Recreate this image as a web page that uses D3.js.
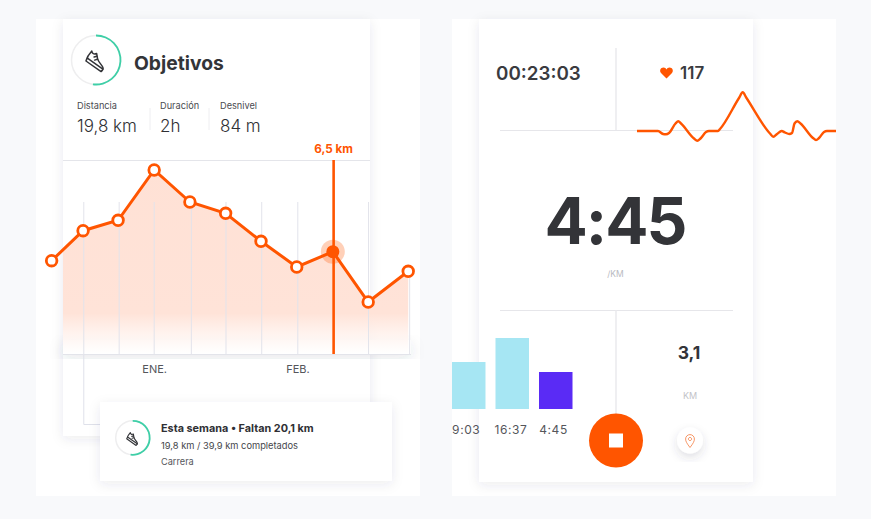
<!DOCTYPE html>
<html><head><meta charset="utf-8">
<script src="https://cdn.jsdelivr.net/npm/d3@7/dist/d3.min.js"></script>
<style>html,body{margin:0;padding:0;background:#f8f9fb}svg{display:block}text{font-family:Inter,"Noto Sans",sans-serif}</style>
</head><body><div id="c"></div>
<script>
// ---- data ----
const kmPositions = [0.11,0.99,1.97,2.98,3.98,4.98,5.97,6.97,7.98,8.97,10.09];
const kmValues = [93.3,123.3,133.7,184,152,140.7,112.7,87,102.3,52,82.7];
const selectedIndex = 8;
const selectedLabel = "6,5 km";
const gridPositions = [1.01,2,2.98,4.02,4.99,5.99,7,8.98,10.13];
const gridTops = [152,152,152,152,152,152,152,152,80];
const monthTicks = [2.98,6.99];
const monthLabels = ["ENE.","FEB."];
const statLabels = ["Distancia","Duración","Desnivel"];
const statValues = ["19,8 km","2h","84 m"];
const hrOffsets = [0,21,26,29,32,38.5,41.3,44,57,60.3,63.5,69,72,81,83,102,105.7,109.5,133,136.3,140,144.7,148,152.3,155,157.5,160.3,163.5,176,179,182,187,190,199];
const hrValues = [0,0,-3,-3.3,-2,7.5,9.7,7.5,-7.5,-9.7,-7.5,-1,0,0,2,33,38.7,33,-2.5,-5.7,-3,0,-1.5,-3,-2,7.5,9.7,7.5,-7,-9,-7,-1,0,0];
const lapLabels = ["19:03","16:37","4:45"];
const lapValues = [47,71,37];
const lapColors = ["#a6e6f3","#a6e6f3","#5a2bf5"];

const W=871,H=519, ORANGE="#ff5500", TEAL="#3ecfa7", INK="#333438", GREY="#e4e5ea";
const svg=d3.select("#c").append("svg").attr("width",W).attr("height",H);
const defs=svg.append("defs");
function shadow(id,dy,blur,op){const f=defs.append("filter").attr("id",id).attr("x","-30%").attr("y","-30%").attr("width","160%").attr("height","160%");
  f.append("feDropShadow").attr("dx",0).attr("dy",dy).attr("stdDeviation",blur).attr("flood-color","#3a3f55").attr("flood-opacity",op);}
shadow("s1",3,6,0.09); shadow("s2",4,7,0.13); shadow("s3",4,5,0.16);
const g=defs.append("linearGradient").attr("id","area").attr("gradientUnits","userSpaceOnUse").attr("x1",0).attr("x2",0).attr("y1",160).attr("y2",354);
[[0,"#ffe1d5",1],[0.79,"#ffe3d8",1],[1,"#ffffff",0.7]].forEach(d=>g.append("stop").attr("offset",d[0]).attr("stop-color",d[1]).attr("stop-opacity",d[2]));
defs.append("clipPath").attr("id","rightPanel").append("rect").attr("x",452).attr("y",19).attr("width",384).attr("height",477);
defs.append("clipPath").attr("id","areaClip").append("rect").attr("x",63).attr("y",150).attr("width",348).attr("height",204);

function rect(p,x,y,w,h,fill,f){const r=p.append("rect").attr("x",x).attr("y",y).attr("width",w).attr("height",h).attr("fill",fill);if(f)r.attr("filter",`url(#${f})`);return r;}
function line(p,x1,y1,x2,y2,c,w){return p.append("line").attr("x1",x1).attr("y1",y1).attr("x2",x2).attr("y2",y2).attr("stroke",c).attr("stroke-width",w||1);}
function text(p,s,x,y,size,weight,fill,anchor){return p.append("text").text(s).attr("x",x).attr("y",y).attr("font-size",size).attr("font-weight",weight||400).attr("fill",fill||INK).attr("text-anchor",anchor||"start");}
function ring(p,cx,cy,r,frac,iconScale,sw){
  const n=p.append("g").attr("transform",`translate(${cx},${cy})`);
  n.append("circle").attr("r",r).attr("fill","#fff").attr("stroke","#eeeeef").attr("stroke-width",1.5);
  n.append("path").attr("d",d3.arc()({innerRadius:r-0.9,outerRadius:r+0.9,startAngle:0,endAngle:frac*2*Math.PI})).attr("fill",TEAL);
  const ic=n.append("g").attr("transform",`translate(0.7,1) scale(${iconScale}) rotate(35) translate(-12,-9)`).attr("fill","none").attr("stroke",INK).attr("stroke-width",sw).attr("stroke-linejoin","round").attr("stroke-linecap","round");
  ic.append("path").attr("d","M1 3 C3 5 5 5 7 2 L11 6 C14 9 19 9 22 11 C23.5 12 23.5 14 23 16 L2 16 C0.5 12 0.5 7 1 3 Z").attr("fill","#fff");
  ic.append("path").attr("d","M1.5 12.5 L23 12.5 M9 4.5 L7 7 M11.5 7 L9.5 9.5");
}

// panels
rect(svg,36,19,384,477,"#fff");
rect(svg,452,19,384,477,"#fff");

// left card
rect(svg,63,19,307,417,"#fff","s1");
line(svg,63,160.5,370,160.5,GREY,1);
ring(svg,96,60,24.5,0.52,0.88,1.7);
text(svg,"Objetivos",134,70,19.3,700);
const statX=[77,160,220], statLineX=[150,209];
statLabels.forEach((d,i)=>text(svg,d,statX[i],109,9.2,400,"#4a4b50"));
statValues.forEach((d,i)=>text(svg,d,statX[i],132,17,300,"#2f3034"));
statLineX.forEach(x=>line(svg,x,108,x,130,"#eeeef1",1));

// main chart
const x=d3.scaleLinear().domain([0,10]).range([47.7,405]);
const y=d3.scaleLinear().domain([0,200]).range([354,154]);
const pts=kmPositions.map((k,i)=>({k,v:kmValues[i],i}));
const chart=svg.append("g");
chart.append("rect").attr("x",63).attr("y",340).attr("width",348).attr("height",14).attr("fill","#fff").attr("filter","url(#s2)");
chart.append("path").datum(pts).attr("clip-path","url(#areaClip)")
  .attr("d",d3.area().x(d=>x(d.k)).y0(y(0)).y1(d=>y(d.v))).attr("fill","url(#area)");
chart.selectAll("line.grid").data(gridPositions).join("line").attr("class","grid")
  .attr("x1",d=>x(d)).attr("x2",d=>x(d)).attr("y1",(d,i)=>y(gridTops[i])).attr("y2",y(0)).attr("stroke","#e2e3eb").attr("stroke-width",1);
const bx=x(gridPositions[0]);
chart.append("path").attr("d",`M${bx},354V424.5H100`).attr("fill","none").attr("stroke","#dfe1ea");
line(chart,63,354.5,411,354.5,"#e3e4ea",1);
const ax=d3.axisBottom(x).tickValues(monthTicks).tickSize(0).tickFormat((d,i)=>monthLabels[i]);
const axG=chart.append("g").attr("transform","translate(0,354)").call(ax);
axG.select(".domain").remove();
axG.selectAll("text").attr("dy",0).attr("y",19).attr("font-size",11).attr("fill","#55565b").style("font-family","Inter");
const sel=pts[selectedIndex];
chart.append("line").attr("x1",x(sel.k)+0.8).attr("x2",x(sel.k)+0.8).attr("y1",160).attr("y2",354).attr("stroke",ORANGE).attr("stroke-width",2.6);
text(chart,selectedLabel,x(sel.k)+0.8,152.5,11.7,700,ORANGE,"middle");
chart.append("path").datum(pts).attr("d",d3.line().x(d=>x(d.k)).y(d=>y(d.v))).attr("fill","none").attr("stroke",ORANGE).attr("stroke-width",3);
chart.selectAll("circle.pt").data(pts.filter(d=>d.i!==selectedIndex)).join("circle").attr("class","pt")
  .attr("cx",d=>x(d.k)).attr("cy",d=>y(d.v)).attr("r",5.3).attr("fill","#fff").attr("stroke",ORANGE).attr("stroke-width",2.8);
chart.append("circle").attr("cx",x(sel.k)).attr("cy",y(sel.v)).attr("r",12).attr("fill",ORANGE).attr("opacity",0.28);
chart.append("circle").attr("cx",x(sel.k)).attr("cy",y(sel.v)).attr("r",6.5).attr("fill",ORANGE);

// bottom card
rect(svg,100,402,292,79,"#fff","s1");
ring(svg,132.7,437.8,17,0.52,0.55,2.1);
text(svg,"Esta semana • Faltan 20,1 km",161,432,10.85,700,"#2f3034");
text(svg,"19,8 km / 39,9 km completados",161,448.5,9.3,400,"#45464b");
text(svg,"Carrera",161,465,9.2,400,"#55565b");

// right card
rect(svg,479,19,274,463,"#fff","s1");
line(svg,616,48,616,130,"#e9e9ec",1.4);
line(svg,500,130.5,733,130.5,"#e6e6ea",1);
line(svg,500,310.5,733,310.5,"#e6e6ea",1);
line(svg,616,310,616,420,"#e9e9ec",1.4);
text(svg,"00:23:03",496,80,18.8,600,"#3a3b3f");
svg.append("path").attr("d","M666.5,78.5 L661,73 C659,70.6 660.8,67.5 663.4,67.5 C665,67.5 666,68.4 666.5,69.5 C667,68.4 668,67.5 669.6,67.5 C672.2,67.5 674,70.6 672,73 Z").attr("fill",ORANGE);
text(svg,"117",680,79,17,600,"#3a3b3f");
text(svg,"4:45",615,243.5,64,700,"#333438","middle").attr("letter-spacing",-2);
text(svg,"/KM",615.5,277,8.5,400,"#b9babf","middle");
text(svg,"3,1",689,359,17.5,700,"#333438","middle");
text(svg,"KM",690,399,9,400,"#c2c3c8","middle");

// heart rate line
const hx=d3.scaleLinear().domain([0,199]).range([637,836]);
const hy=d3.scaleLinear().domain([0,40]).range([131,91]);
svg.append("path").datum(hrOffsets.map((o,i)=>[o,hrValues[i]])).attr("clip-path","url(#rightPanel)")
  .attr("d",d3.line().x(d=>hx(d[0])).y(d=>hy(d[1])).curve(d3.curveMonotoneX))
  .attr("fill","none").attr("stroke",ORANGE).attr("stroke-width",2.4).attr("stroke-linejoin","round");

// lap bars
const bxS=d3.scaleBand().domain(lapLabels).range([452,572.5]).paddingInner(0.23);
const byS=d3.scaleLinear().domain([0,100]).range([409,309]);
const laps=svg.append("g").attr("clip-path","url(#rightPanel)");
laps.selectAll("rect").data(lapLabels).join("rect").attr("x",d=>bxS(d)).attr("width",bxS.bandwidth())
  .attr("y",(d,i)=>byS(lapValues[i])).attr("height",(d,i)=>byS(0)-byS(lapValues[i])).attr("fill",(d,i)=>lapColors[i]);
const lapAnchor=[463.5,511,553.5];
laps.selectAll("text").data(lapLabels).join("text").text(d=>d).attr("x",(d,i)=>lapAnchor[i]).attr("y",434)
  .attr("text-anchor","middle").attr("font-size",12).attr("fill","#55565b").attr("letter-spacing",0.6);

// buttons
svg.append("circle").attr("cx",616).attr("cy",440.5).attr("r",27).attr("fill",ORANGE);
rect(svg,609,433.5,14,14,"#fff");
svg.append("circle").attr("cx",690).attr("cy",440.5).attr("r",13).attr("fill","#fff").attr("filter","url(#s3)");
svg.append("path").attr("d","M690,447.5 C687,443.5 685.6,441.5 685.6,439 A4.4,4.4 0 0 1 694.4,439 C694.4,441.5 693,443.5 690,447.5 Z M690,437.4 a1.6,1.6 0 1 0 .01,0 Z")
  .attr("fill","none").attr("stroke","#f58a55").attr("stroke-width",0.9);
</script></body></html>
